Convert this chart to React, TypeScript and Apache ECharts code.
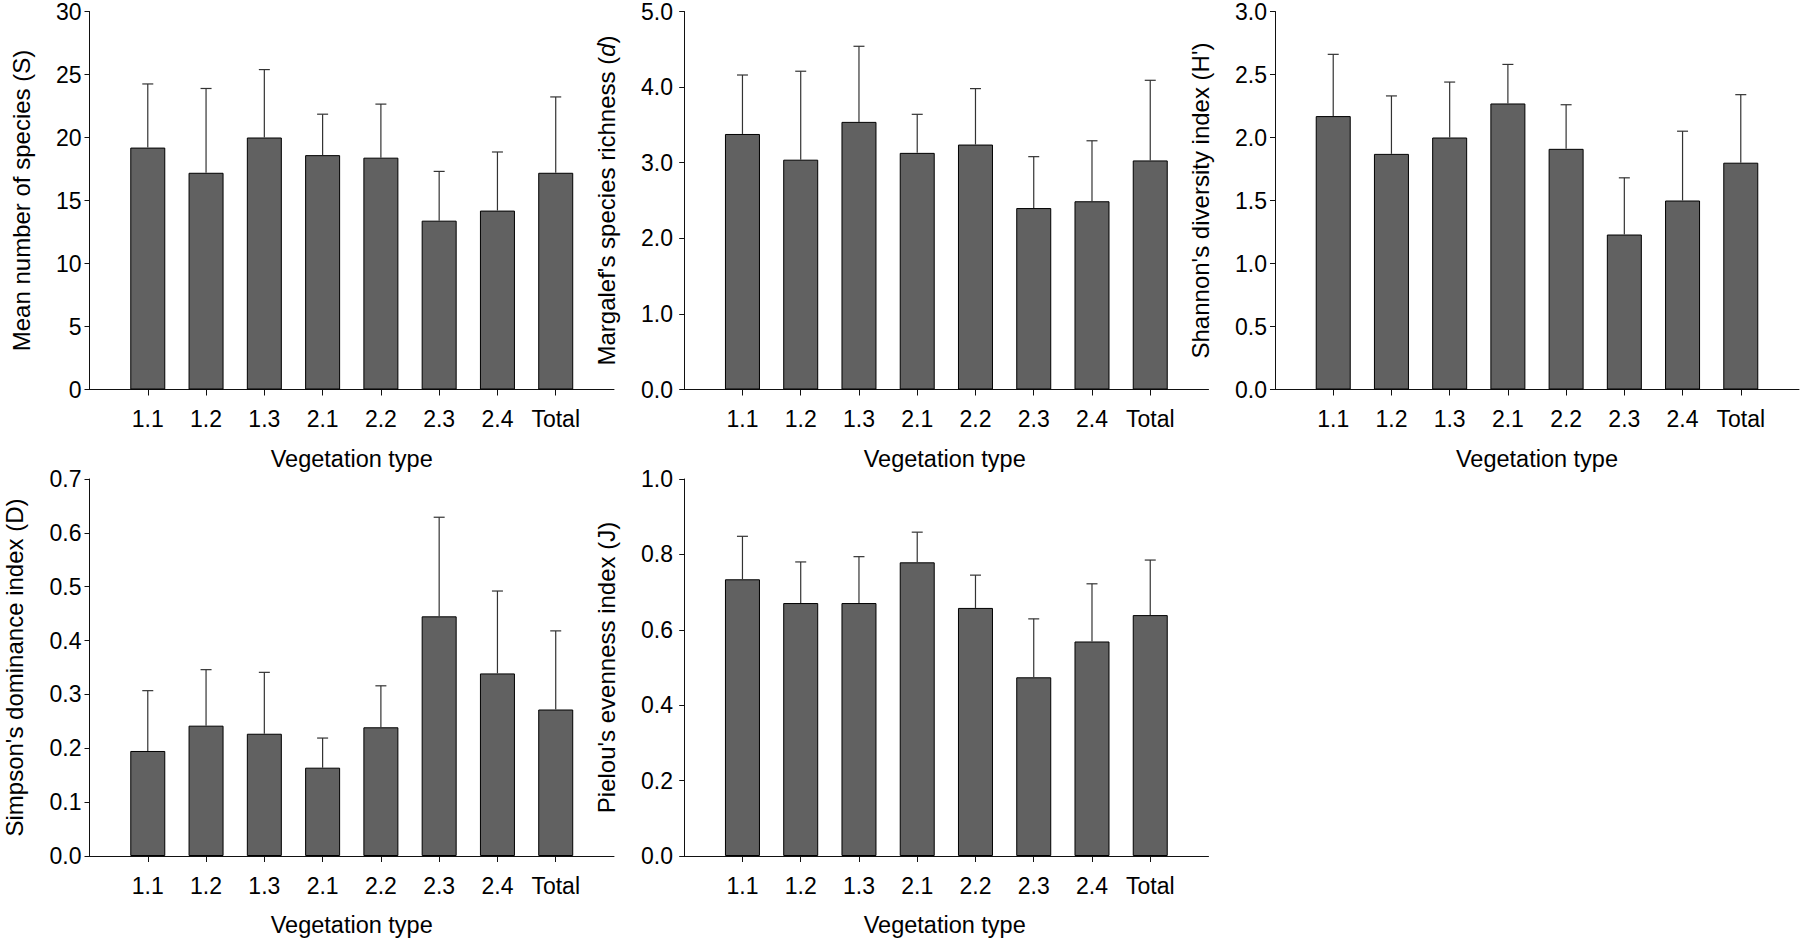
import React, { useEffect, useRef } from "react";
import * as echarts from "echarts";

const FONT = "'Liberation Sans', Arial, Helvetica, sans-serif";

const categories = ["1.1", "1.2", "1.3", "2.1", "2.2", "2.3", "2.4", "Total"];

const speciesMean = [19.2, 17.2, 20.0, 18.6, 18.4, 13.4, 14.2, 17.2];
const speciesSD = [5.05, 6.69, 5.39, 3.25, 4.25, 3.91, 4.65, 6.02];

const margalefMean = [3.38, 3.04, 3.54, 3.13, 3.24, 2.4, 2.49, 3.03];
const margalefSD = [0.78, 1.17, 1.0, 0.51, 0.74, 0.68, 0.8, 1.06];

const shannonMean = [2.17, 1.87, 2.0, 2.27, 1.91, 1.23, 1.5, 1.8];
const shannonSD = [0.49, 0.46, 0.44, 0.31, 0.35, 0.45, 0.55, 0.54];

const simpsonMean = [0.195, 0.242, 0.227, 0.164, 0.239, 0.445, 0.339, 0.272];
const simpsonSD = [0.112, 0.104, 0.114, 0.055, 0.077, 0.184, 0.153, 0.146];

const pielouMean = [0.734, 0.671, 0.671, 0.779, 0.658, 0.474, 0.569, 0.639];
const pielouSD = [0.114, 0.109, 0.123, 0.08, 0.087, 0.155, 0.153, 0.146];

const xTitle = "Vegetation type";

const panels = [
  { mean: speciesMean, sd: speciesSD, yMax: 30, yInt: 5, dec: 0, title: "Mean number of species (S)", left: 89.5, top: 10.5, width: 524.5, height: 379, xMin: 0, nameGap: 56 },
  { mean: margalefMean, sd: margalefSD, yMax: 5, yInt: 1, dec: 1, title: "Margalef's species richness ({i|d})", left: 681, top: 10.5, width: 527.5, height: 379, xMin: -0.055, nameGap: 63 },
  { mean: shannonMean, sd: shannonSD, yMax: 3, yInt: 0.5, dec: 1, title: "Shannon's diversity index (H')", left: 1275, top: 10.5, width: 524, height: 379, xMin: 0, nameGap: 63 },
  { mean: simpsonMean, sd: simpsonSD, yMax: 0.7, yInt: 0.1, dec: 1, title: "Simpson's dominance index (D)", left: 89.5, top: 479, width: 524.5, height: 377, xMin: 0, nameGap: 63 },
  { mean: pielouMean, sd: pielouSD, yMax: 1.0, yInt: 0.2, dec: 1, title: "Pielou's evenness index (J)", left: 681, top: 479, width: 527.5, height: 377, xMin: -0.055, nameGap: 63 },
];

const positions = categories.map((_, i) => i + 1);

export default function App() {
  const ref = useRef<HTMLDivElement>(null);

  useEffect(() => {
    if (!ref.current) return;
    const chart = echarts.init(ref.current, null, { renderer: "svg" });
    const axisColor = "#111";
    const option: any = {
      animation: false,
      backgroundColor: "#fff",
      grid: panels.map((p) => ({ left: p.left, top: p.top, width: p.width, height: p.height })),
      xAxis: panels.map((p, i) => ({
        type: "value",
        gridIndex: i,
        min: p.xMin,
        max: 9,
        axisLine: { show: true, onZero: false, lineStyle: { color: axisColor, width: 1 } },
        axisTick: { show: true, customValues: positions, length: 6, lineStyle: { color: axisColor, width: 1 } },
        axisLabel: {
          customValues: positions,
          formatter: (v: number) => categories[Math.round(v) - 1] ?? "",
          fontSize: 23,
          fontFamily: FONT,
          color: "#000",
          margin: 18,
        },
        splitLine: { show: false },
        name: xTitle,
        nameLocation: "middle",
        nameGap: 57,
        nameTextStyle: { fontSize: 23.5, fontFamily: FONT, color: "#000" },
      })),
      yAxis: panels.map((p, i) => ({
        type: "value",
        gridIndex: i,
        min: 0,
        max: p.yMax,
        interval: p.yInt,
        axisLine: { show: true, lineStyle: { color: axisColor, width: 1 } },
        axisTick: { show: true, length: 5, lineStyle: { color: axisColor, width: 1 } },
        axisLabel: {
          formatter: (v: number) => v.toFixed(p.dec),
          fontSize: 23,
          fontFamily: FONT,
          color: "#000",
          margin: 8,
        },
        splitLine: { show: false },
        name: p.title,
        nameLocation: "middle",
        nameRotate: 90,
        nameGap: p.nameGap,
        nameTextStyle: {
          fontSize: 24,
          fontFamily: FONT,
          color: "#000",
          rich: { i: { fontStyle: "italic", fontSize: 24, fontFamily: FONT, color: "#000" } },
        },
      })),
      series: panels.flatMap((p, i) => [
        {
          type: "bar",
          xAxisIndex: i,
          yAxisIndex: i,
          silent: true,
          barWidth: 35,
          data: p.mean.map((m, j) => [positions[j], m]),
          itemStyle: { color: "#616161", borderColor: "#000", borderWidth: 1 },
        },
        {
          type: "custom",
          xAxisIndex: i,
          yAxisIndex: i,
          silent: true,
          z: 3,
          encode: { x: 0, y: [1, 2] },
          data: p.mean.map((m, j) => [positions[j], m, m + p.sd[j]]),
          renderItem: (params: any, api: any) => {
            const x = api.value(0);
            const base = api.coord([x, api.value(1)]);
            const top = api.coord([x, api.value(2)]);
            const style = { stroke: "#333", lineWidth: 1.2 };
            return {
              type: "group",
              children: [
                { type: "line", shape: { x1: base[0], y1: base[1], x2: top[0], y2: top[1] }, style },
                { type: "line", shape: { x1: top[0] - 5.5, y1: top[1], x2: top[0] + 5.5, y2: top[1] }, style },
              ],
            };
          },
        },
      ]),
    };
    chart.setOption(option);
    return () => chart.dispose();
  }, []);

  return (
    <div
      ref={ref}
      style={{ position: "absolute", left: 0, top: 0, width: 1803, height: 943, background: "#fff" }}
    />
  );
}
